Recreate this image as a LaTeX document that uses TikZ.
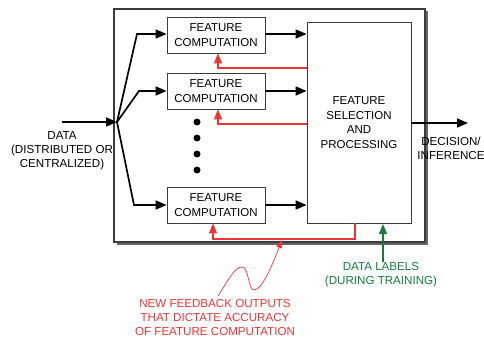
\documentclass[tikz,border=0pt]{standalone}
\usepackage{fontspec}
\setmainfont{Liberation Sans}
\usetikzlibrary{arrows.meta,shadows,calc}
\definecolor{fbred}{RGB}{236,52,52}
\definecolor{lblgreen}{RGB}{22,122,62}
\definecolor{boxgray}{RGB}{60,60,60}
\tikzset{
  fcbox/.style={draw=boxgray, line width=0.8pt, fill=white, minimum width=98pt, minimum height=36pt, inner sep=0pt, align=center, font=\fontsize{11.5}{14.5}\selectfont},
  blk/.style={line width=1.7pt, -{Triangle[length=11pt,width=9pt]}},
  fb/.style={draw=fbred, line width=1.2pt, -{Triangle[length=10pt,width=8pt]}},
  txt/.style={align=center, inner sep=0pt, font=\fontsize{11.6}{14}\selectfont},
  dotn/.style={circle, fill=black, inner sep=0pt, minimum size=7pt}
}
\begin{document}
\begin{tikzpicture}[x=1pt,y=-1pt]
\useasboundingbox (0,0) rectangle (484,339);
% outer frame
\node[draw=boxgray, line width=1.4pt, fill=white, minimum width=311pt, minimum height=233pt, inner sep=0pt,
      drop shadow={shadow xshift=2.5pt, shadow yshift=-2.5pt, opacity=0.6, fill=black}] (outer) at (269.5,125.5) {};
% feature computation boxes
\node[fcbox] (fc1) at (216,35) {FEATURE\\COMPUTATION};
\node[fcbox] (fc2) at (216,91) {FEATURE\\COMPUTATION};
\node[fcbox] (fc3) at (216,205) {FEATURE\\COMPUTATION};
% selection box
\node[draw=boxgray, line width=0.8pt, fill=white, minimum width=104pt, minimum height=201pt, inner sep=0pt, align=center,
      font=\fontsize{11.5}{14.5}\selectfont] (sel) at (359,122.5) {FEATURE\\SELECTION\\AND\\PROCESSING};
% dots
\node[dotn] (d1) at (197,122) {};
\node[dotn] (d2) at (197,138) {};
\node[dotn] (d3) at (197,154) {};
\node[dotn] (d4) at (197,170) {};
% input
\coordinate (din) at (62,122);
\coordinate (fan) at (117,122);
\draw[blk] (din) -- (fan);
\draw[blk, line join=miter] (fan) -- (137,34) -- (fc1.west |- 0,34);
\draw[blk, line join=miter] (fan) -- (139,91) -- (fc2.west);
\draw[blk, line join=miter] (fan) -- (134,205) -- (fc3.west);
\node[txt] (datat) at (62,151) {DATA\\(DISTRIBUTED OR\\CENTRALIZED)};
% to selection
\draw[blk] (fc1.east |- 0,34) -- (sel.west |- 0,34);
\draw[blk] (fc2.east) -- (sel.west |- fc2.east);
\draw[blk] (fc3.east) -- (sel.west |- fc3.east);
% output
\coordinate (dout) at (468,123);
\draw[blk] (sel.east |- dout) -- (dout);
\node[txt] (dec) at (451,148) {DECISION/\\INFERENCE};
% feedback
\coordinate (f1) at (307,68);
\coordinate (f2) at (307,124);
\draw[fb] (f1) -| ($(fc1.south)+(2,0)$);
\draw[fb] (f2) -| ($(fc2.south)+(2,0)$);
\coordinate (f3) at (355,223);
\coordinate (f3b) at (355,239);
\draw[fb] (f3) -- (f3b) -| ($(fc3.south)+(-3,0)$);
% labels
\coordinate (gs) at (383,262);
\draw[draw=lblgreen, line width=1.4pt, -{Triangle[length=10pt,width=8pt]}] (gs) -- (383,224);
\node[txt, text=lblgreen] (lbl) at (381,275) {DATA LABELS\\(DURING TRAINING)};
\node[txt, text=fbred] (fbt) at (215,318) {NEW FEEDBACK OUTPUTS\\THAT DICTATE ACCURACY\\OF FEATURE COMPUTATION};
\draw[draw=fbred, line width=0.7pt, -{Triangle[length=8pt,width=6pt]}]
  (218,296) .. controls (229,279) and (235,267) .. (242,267)
  .. controls (249,267) and (248,290) .. (254,290)
  .. controls (263,290) and (275,258) .. (282,240);
\end{tikzpicture}
\end{document}
